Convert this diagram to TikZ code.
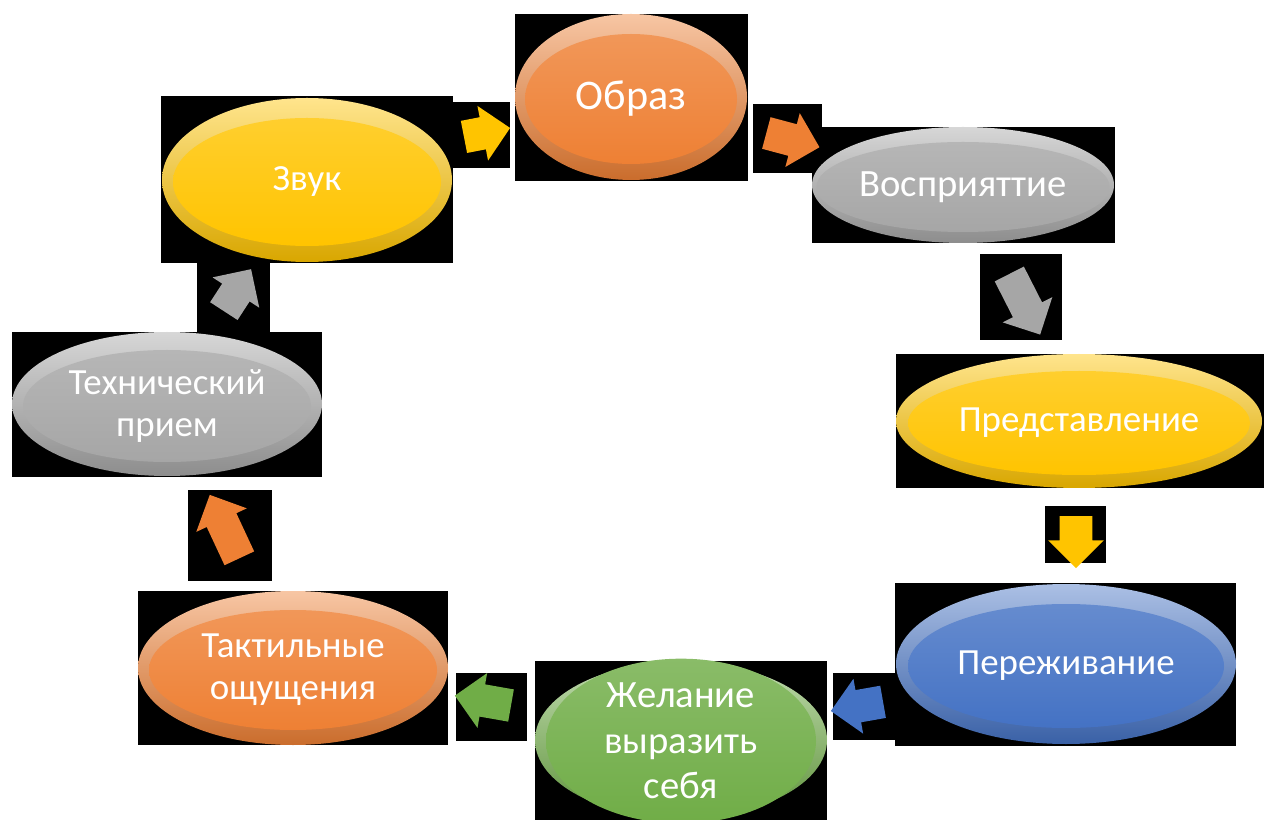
\documentclass[tikz,border=0pt]{standalone}
\usepackage{fontspec}
\setmainfont{Carlito}
\usetikzlibrary{shapes.geometric,shapes.arrows}
\definecolor{yelC}{RGB}{255,196,0}
\definecolor{oraC}{RGB}{238,128,52}
\definecolor{grayC}{RGB}{166,166,166}
\definecolor{bluC}{RGB}{68,114,196}
\definecolor{grnC}{RGB}{112,173,71}
\begin{document}
\begin{tikzpicture}[x=0.02cm,y=-0.02cm]
\def\px{0.02cm}
\tikzset{rim/.style={ellipse,inner sep=0pt,top color=#1!45!white,bottom color=#1!85!black},
core/.style={ellipse,inner sep=0pt,top color=#1!82!white,bottom color=#1,text=white,align=center},
arr/.style={single arrow,inner xsep=0pt,inner ysep=0.32cm,minimum width=1.1cm,
single arrow head extend=0.23cm,fill=#1},
lbl/.style={font=\fontsize{21}{24}\selectfont}}
\useasboundingbox (0,0) rectangle (1264,820);
% black backdrops
\fill (161,96) rectangle (453,263);
\fill (453,102) rectangle (510,168);
\fill (515,14) rectangle (748,181);
\fill (753,104) rectangle (822,173);
\fill (812,127) rectangle (1115,243);
\fill (980,254) rectangle (1062,340);
\fill (896,354) rectangle (1264,488);
\fill (1045,506) rectangle (1106,563);
\fill (895,583) rectangle (1236,746);
\fill (833,673) rectangle (895,740);
\fill (535,661) rectangle (827,820);
\fill (456,673) rectangle (527,741);
\fill (138,591) rectangle (448,745);
\fill (188,490) rectangle (272,581);
\fill (12,332) rectangle (322,477);
\fill (197,261) rectangle (270,332);
% bubbles
\node[rim=yelC,minimum width=290*\px,minimum height=164*\px] (zvukR) at (307,180) {};
\node[core=yelC,minimum width=268*\px,minimum height=128*\px,lbl] (zvuk) at (307,182) {Звук};
\node[rim=oraC,minimum width=232*\px,minimum height=166*\px] (obrazR) at (631,97) {};
\node[core=oraC,minimum width=212*\px,minimum height=130*\px,font=\fontsize{24}{28}\selectfont] (obraz) at (631,99) {Образ};
\node[rim=grayC,minimum width=302*\px,minimum height=116*\px] (vosprR) at (963,185) {};
\node[core=grayC,minimum width=280*\px,minimum height=90*\px,font=\fontsize{22}{26}\selectfont] (vospr) at (963,187) {Восприяттие};
\node[rim=yelC,minimum width=366*\px,minimum height=134*\px] (predstR) at (1079,421) {};
\node[core=yelC,minimum width=342*\px,minimum height=104*\px,lbl] (predst) at (1079,423) {Представление};
\node[rim=bluC,minimum width=340*\px,minimum height=160*\px] (perezhR) at (1066,664) {};
\node[core=bluC,minimum width=316*\px,minimum height=124*\px,lbl] (perezh) at (1066,666) {Переживание};
\node[rim=grnC,minimum width=292*\px,minimum height=156*\px] (zhelanR) at (681,740) {};
\node[core=grnC,minimum width=270*\px,minimum height=122*\px,font=\fontsize{22}{26}\selectfont] (zhelan) at (681,741) {Желание\\выразить\\себя};
\node[rim=oraC,minimum width=310*\px,minimum height=154*\px] (taktR) at (293,668) {};
\node[core=oraC,minimum width=288*\px,minimum height=120*\px,lbl] (takt) at (293,670) {Тактильные\\ощущения};
\node[rim=grayC,minimum width=310*\px,minimum height=144*\px] (tekhnR) at (167,404) {};
\node[core=grayC,minimum width=288*\px,minimum height=112*\px,lbl] (tekhn) at (167,406) {Технический\\прием};
% block arrows
\node[arr=yelC,minimum height=47*\px,rotate=11] (a1) at (479,134) {};
\node[arr=oraC,minimum height=55*\px,rotate=-15] (a2) at (785,138) {};
\node[arr=grayC,minimum height=68*\px,rotate=-63] (a3) at (1021,297) {};
\node[arr=yelC,minimum height=52*\px,rotate=-90] (a4) at (1076,534) {};
\node[arr=bluC,minimum height=53*\px,rotate=190] (a5) at (865,705) {};
\node[arr=grnC,minimum height=57*\px,rotate=170] (a6) at (491,702) {};
\node[arr=oraC,minimum height=70*\px,rotate=115] (a7) at (228,534) {};
\node[arr=grayC,minimum height=50*\px,rotate=57] (a8) at (233,297) {};
\end{tikzpicture}
\end{document}
